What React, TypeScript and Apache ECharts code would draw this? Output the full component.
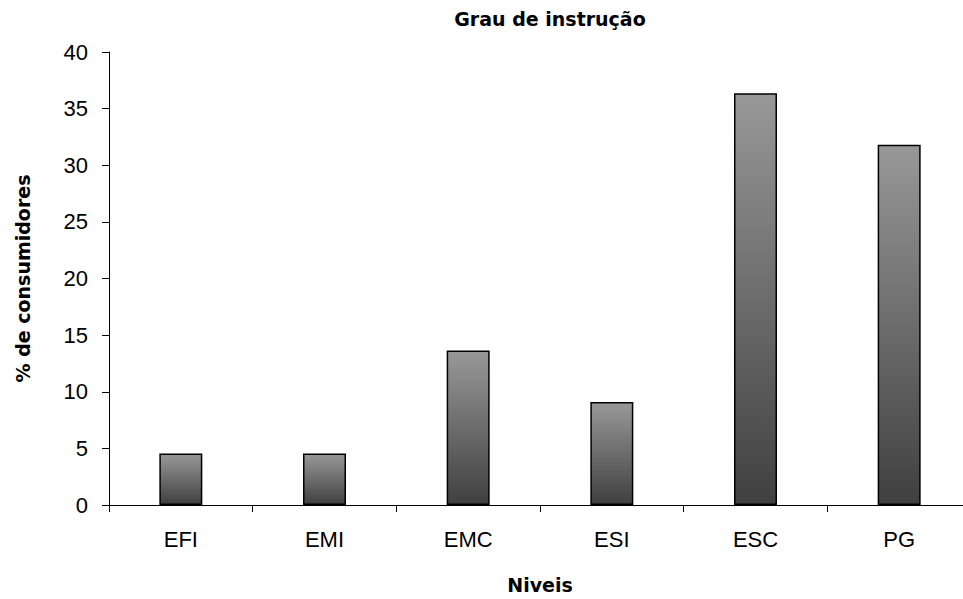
import React, { useEffect, useRef } from "react";
import * as echarts from "echarts";

const categories = ["EFI", "EMI", "EMC", "ESI", "ESC", "PG"];
const values = [4.55, 4.55, 13.64, 9.09, 36.36, 31.82];
const yTicks = { min: 0, max: 40, interval: 5 };

const App: React.FC = () => {
  const ref = useRef<HTMLDivElement>(null);
  useEffect(() => {
    if (!ref.current) return;
    const chart = echarts.init(ref.current, undefined, { renderer: "svg" });
    chart.setOption({
      animation: false,
      backgroundColor: "#ffffff",
      grid: { left: 109, right: 9, top: 52, bottom: 94, containLabel: false },
      graphic: [
        {
          type: "text",
          x: 550,
          y: 19,
          style: {
            text: "Grau de instrução",
            align: "center",
            verticalAlign: "middle",
            fontFamily: "DejaVu Sans",
            fontWeight: "bold",
            fontSize: 19,
            fill: "#000",
          },
        },
      ],
      xAxis: {
        type: "category",
        data: categories,
        name: "Niveis",
        nameLocation: "middle",
        nameGap: 70,
        nameTextStyle: {
          fontFamily: "DejaVu Sans",
          fontWeight: "bold",
          fontSize: 19,
          color: "#000",
        },
        axisLine: { lineStyle: { color: "#000", width: 1 } },
        axisTick: { show: true, length: 7, inside: false, lineStyle: { color: "#000" } },
        axisLabel: {
          margin: 23,
          fontFamily: "Liberation Sans, Arial, sans-serif",
          fontSize: 22,
          color: "#000",
        },
      },
      yAxis: {
        type: "value",
        min: yTicks.min,
        max: yTicks.max,
        interval: yTicks.interval,
        name: "% de consumidores",
        nameLocation: "middle",
        nameGap: 77,
        nameTextStyle: {
          fontFamily: "DejaVu Sans",
          fontWeight: "bold",
          fontSize: 19,
          color: "#000",
        },
        axisLine: { show: true, lineStyle: { color: "#000", width: 1 } },
        axisTick: { show: true, length: 7, lineStyle: { color: "#000" } },
        splitLine: { show: false },
        axisLabel: {
          margin: 21,
          fontFamily: "Liberation Sans, Arial, sans-serif",
          fontSize: 22,
          color: "#000",
        },
      },
      series: [
        {
          type: "bar",
          data: values,
          barWidth: 43,
          itemStyle: {
            color: new echarts.graphic.LinearGradient(0, 0, 0, 1, [
              { offset: 0, color: "#989898" },
              { offset: 1, color: "#404040" },
            ]),
            borderColor: "#000",
            borderWidth: 1.5,
          },
        },
      ],
    });
    return () => chart.dispose();
  }, []);
  return (
    <div
      ref={ref}
      style={{ position: "fixed", left: 0, top: 0, width: 980, height: 599 }}
    />
  );
};

export default App;
